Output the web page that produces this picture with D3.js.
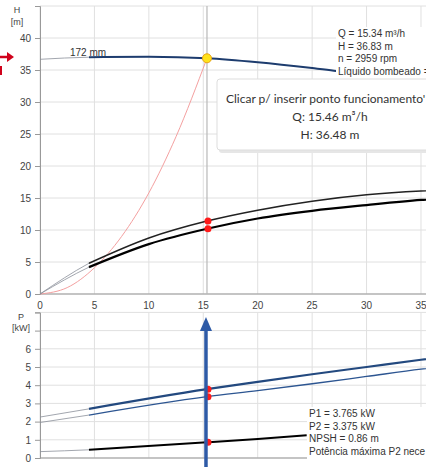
<!DOCTYPE html>
<html>
<head>
<meta charset="utf-8">
<script src="https://cdn.jsdelivr.net/npm/d3@7"></script>
<style>
  body { margin: 0; background: #fff; overflow: hidden; }
  svg { display: block; font-family: "Liberation Sans", Arial, sans-serif; }
</style>
</head>
<body>
<div id="chart"></div>
<script>
// pump curve data
var qTicks = [0, 5, 10, 15, 20, 25, 30, 35, 40];
var hTicks = [0, 5, 10, 15, 20, 25, 30, 35, 40, 45];
var pTicks = [0, 1, 2, 3, 4, 5, 6, 7, 8];
var hLabels = [0, 5, 10, 15, 20, 25, 30, 35, 40];
var pLabels = [0, 1, 2, 3, 4, 5, 6];

var headQ = [0, 4.5, 10, 15.34, 20, 25, 27, 30];
var headH = [36.67, 37.0, 37.08, 36.83, 36.2, 35.3, 34.9, 34.1];

var systemQ = [0, 2.5, 5, 7.5, 10, 12.5, 15.34];
var systemH = [0, 1.0, 4.1, 9.0, 15.8, 24.6, 36.83];

var curveQ = [0, 4.5, 10, 15.34, 20, 25, 30, 35, 40];
var upperH = [0, 4.8, 8.75, 11.4, 13.1, 14.5, 15.5, 16.1, 16.4];
var lowerH = [0, 4.2, 7.8, 10.2, 11.8, 13.0, 13.9, 14.7, 15.2];

var powerQ = [0, 4.5, 15.34, 20, 25, 30, 35, 40];
var p1 = [2.25, 2.7, 3.78, 4.18, 4.6, 5.0, 5.4, 5.75];
var p2 = [1.95, 2.36, 3.37, 3.7, 4.08, 4.48, 4.88, 5.22];
var npshQ = [0, 4.5, 15.34, 20, 24.5];
var npsh = [0.35, 0.45, 0.86, 1.05, 1.25];

var dutyQ = 15.34, dutyH = 36.83;
var dutyP1 = 3.78, dutyP2 = 3.37, dutyNpsh = 0.86;

var infoTop = ["Q = 15.34 m\u00b3/h", "H = 36.83 m", "n = 2959 rpm", "L\u00edquido bombeado ="];
var infoBottom = ["P1 = 3.765 kW", "P2 = 3.375 kW", "NPSH = 0.86 m", "Pot\u00eancia m\u00e1xima P2 nece"];
var tipLines = ["Clicar p/ inserir ponto funcionamento'", "Q: 15.46 m\u00b3/h", "H: 36.48 m"];

var W = 426, H = 467;
var svg = d3.select("#chart").append("svg").attr("width", W).attr("height", H);

var x = d3.scaleLinear().domain([0, 40]).range([40, 475.4]);
var yH = d3.scaleLinear().domain([0, 45]).range([294, 6]);
var yP = d3.scaleLinear().domain([0, 8]).range([458, 312.4]);

var gridColor = "#e0e0e0";

function drawGrid(y, ticks, labels) {
    var g = svg.append("g");
    g.selectAll("line.v").data(qTicks).enter().append("line")
        .attr("x1", d => x(d)).attr("x2", d => x(d))
        .attr("y1", y.range()[0]).attr("y2", y.range()[1])
        .attr("stroke", gridColor);
    g.selectAll("line.h").data(ticks).enter().append("line")
        .attr("x1", x(0)).attr("x2", W)
        .attr("y1", d => y(d)).attr("y2", d => y(d))
        .attr("stroke", gridColor);
    // left axis
    var ax = svg.append("g").attr("transform", "translate(" + x(0) + ",0)")
        .call(d3.axisLeft(y).tickValues(ticks).tickSize(5).tickPadding(4)
            .tickFormat(d => labels.includes(d) ? d : ""));
    ax.select(".domain").attr("stroke", "#999");
    ax.selectAll(".tick line").attr("stroke", "#999");
    ax.selectAll("text").attr("fill", "#444").style("font-size", "10px");
    // bottom line
    svg.append("line").attr("x1", x(0)).attr("x2", W)
        .attr("y1", y(0)).attr("y2", y(0)).attr("stroke", "#999");
}

drawGrid(yH, hTicks, hLabels);
drawGrid(yP, pTicks, pLabels);

// x labels between the charts
svg.append("g").selectAll("text").data(qTicks.slice(0, 8)).enter().append("text")
    .attr("x", d => x(d)).attr("y", 309)
    .attr("text-anchor", "middle").attr("fill", "#444").style("font-size", "10px")
    .text(d => d);

// axis titles
svg.append("text").attr("x", 17).attr("y", 13).attr("text-anchor", "middle")
    .style("font-size", "9px").attr("fill", "#444").text("H");
svg.append("text").attr("x", 17).attr("y", 25).attr("text-anchor", "middle")
    .style("font-size", "9px").attr("fill", "#444").text("[m]");
svg.append("text").attr("x", 21).attr("y", 320).attr("text-anchor", "middle")
    .style("font-size", "9px").attr("fill", "#444").text("P");
svg.append("text").attr("x", 21).attr("y", 331).attr("text-anchor", "middle")
    .style("font-size", "9px").attr("fill", "#444").text("[kW]");

// duty line
svg.append("line").attr("x1", x(dutyQ)).attr("x2", x(dutyQ))
    .attr("y1", yH(45)).attr("y2", yH(0)).attr("stroke", "#b8b8b8").attr("stroke-width", 1.2);

function pts(qs, vs) { return qs.map((q, i) => [q, vs[i]]); }

var defs = svg.append("defs");
defs.append("clipPath").attr("id", "thinClip").append("rect")
    .attr("x", 0).attr("y", 0).attr("width", x(4.5)).attr("height", H);

// thin grey start, thick line from fromQ on
function curve(data, y, color, width, fromQ) {
    var line = d3.line().curve(d3.curveMonotoneX).x(d => x(d[0])).y(d => y(d[1]));
    var thick = data.filter(d => d[0] >= fromQ);
    svg.append("path").attr("d", line(data))
        .attr("fill", "none").attr("stroke", "#8a8f99").attr("stroke-width", 0.8)
        .attr("clip-path", "url(#thinClip)");
    svg.append("path").attr("d", line(thick))
        .attr("fill", "none").attr("stroke", color).attr("stroke-width", width);
}

// system curve
svg.append("path")
    .attr("d", d3.line().curve(d3.curveMonotoneX).x(d => x(d[0])).y(d => yH(d[1]))(pts(systemQ, systemH)))
    .attr("fill", "none").attr("stroke", "#f4a0a0").attr("stroke-width", 1);

curve(pts(curveQ, upperH), yH, "#222", 1.5, 4.5);
curve(pts(curveQ, lowerH), yH, "#000", 2.2, 4.5);
curve(pts(headQ, headH), yH, "#1d3c6e", 2, 4.5);

curve(pts(powerQ, p1), yP, "#23497f", 2.2, 4.5);
curve(pts(powerQ, p2), yP, "#2c5591", 1.3, 4.5);
curve(pts(npshQ, npsh), yP, "#000", 2, 4.5);

// duty points
var redDots = [[dutyQ, upperH[3], yH], [dutyQ, lowerH[3], yH], [dutyQ, dutyP1, yP], [dutyQ, dutyP2, yP], [dutyQ, dutyNpsh, yP]];
svg.selectAll("circle.red").data(redDots).enter().append("circle")
    .attr("cx", d => x(d[0]) + 1).attr("cy", d => d[2](d[1])).attr("r", 3.5)
    .attr("fill", "#ff1a1a");
svg.append("circle").attr("cx", x(dutyQ)).attr("cy", yH(dutyH)).attr("r", 4.5)
    .attr("fill", "#ffe21a").attr("stroke", "#e8a317").attr("stroke-width", 1);

// curve label
svg.append("text").attr("x", 70).attr("y", 56).style("font-size", "10px")
    .attr("fill", "#333").text("172 mm");

// info texts with white background
function infoBlock(lines, x0, y0, w, h) {
    svg.append("rect").attr("x", x0 - 2).attr("y", y0 - 10).attr("width", w).attr("height", h)
        .attr("fill", "#fff");
    svg.append("g").selectAll("text").data(lines).enter().append("text")
        .attr("x", x0).attr("y", (d, i) => y0 + i * 12.6)
        .style("font-size", "10px").attr("fill", "#333").text(d => d);
}
infoBlock(infoTop, 338, 37, 100, 52);
infoBlock(infoBottom, 309, 417, 130, 52);

// tooltip box
var tip = svg.append("g");
tip.append("rect").attr("x", 219).attr("y", 81).attr("width", 230).attr("height", 72)
    .attr("fill", "#e6e6e6").attr("rx", 3);
tip.append("rect").attr("x", 217).attr("y", 79).attr("width", 230).attr("height", 71)
    .attr("fill", "#fff").attr("stroke", "#ddd").attr("rx", 3);
tip.selectAll("text").data(tipLines).enter().append("text")
    .attr("x", (d, i) => i == 0 ? 226 : 330)
    .attr("y", (d, i) => 103 + i * 18)
    .attr("text-anchor", (d, i) => i == 0 ? "start" : "middle")
    .style("font-family", "Lato, 'Open Sans', sans-serif").style("font-size", "12px")
    .attr("fill", "#333").text(d => d);

// annotation arrows
svg.append("line").attr("x1", 0).attr("x2", 8).attr("y1", 57).attr("y2", 57)
    .attr("stroke", "#d0021b").attr("stroke-width", 2.5);
svg.append("path").attr("d", "M7,52 L14,57 L7,62 Z").attr("fill", "#d0021b");
svg.append("rect").attr("x", 0).attr("y", 66).attr("width", 2).attr("height", 9).attr("fill", "#d0021b");

var ax0 = x(dutyQ) - 1;
svg.append("line").attr("x1", ax0).attr("x2", ax0).attr("y1", 328).attr("y2", H)
    .attr("stroke", "#2e5aa6").attr("stroke-width", 3.5);
svg.append("path").attr("d", "M" + (ax0 - 6) + ",331 L" + ax0 + ",317 L" + (ax0 + 6) + ",331 Z")
    .attr("fill", "#2e5aa6");
</script>
</body>
</html>
